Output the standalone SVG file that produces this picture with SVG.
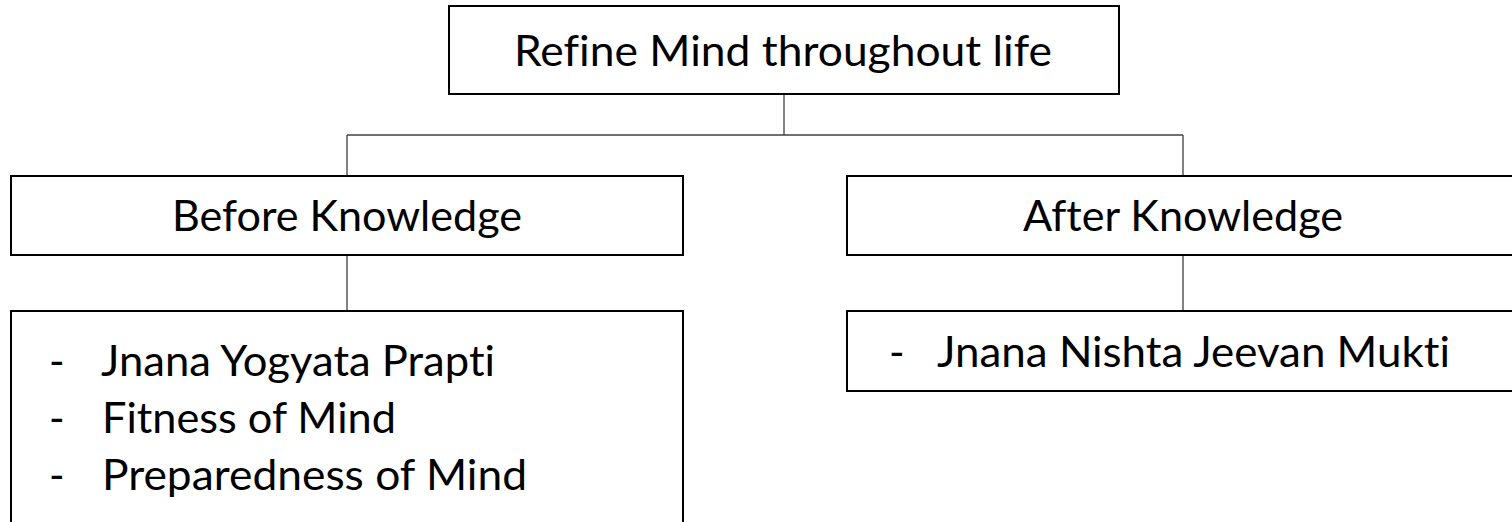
<svg xmlns="http://www.w3.org/2000/svg" width="1512" height="522" viewBox="0 0 1512 522">
<style>
.box{fill:#ffffff;stroke:#000000;stroke-width:2}
.t{font-family:Lato,"Open Sans","Liberation Sans",sans-serif;font-size:42px;fill:#000000;font-variant-ligatures:none}
.c{text-anchor:middle}
.conn{fill:none;stroke:#404040;stroke-width:1.3}
</style>
<rect width="1512" height="522" fill="#ffffff"/>
<g id="connectors">
<line class="conn" x1="784" y1="94" x2="784" y2="135"/>
<line class="conn" x1="347" y1="135" x2="1183" y2="135"/>
<line class="conn" x1="347" y1="135" x2="347" y2="176"/>
<line class="conn" x1="1183" y1="135" x2="1183" y2="176"/>
<line class="conn" x1="347" y1="255" x2="347" y2="311"/>
<line class="conn" x1="1183" y1="255" x2="1183" y2="311"/>
</g>
<g id="root">
<rect class="box" x="449" y="6" width="670" height="88"/>
<text class="t c" x="783" y="66" textLength="538" lengthAdjust="spacingAndGlyphs">Refine Mind throughout life</text>
</g>
<g id="before">
<rect class="box" x="11" y="176" width="672" height="79"/>
<text class="t c" x="347" y="231" textLength="350" lengthAdjust="spacingAndGlyphs">Before Knowledge</text>
</g>
<g id="after">
<rect class="box" x="847" y="176" width="672" height="79"/>
<text class="t c" x="1183" y="231" textLength="320" lengthAdjust="spacingAndGlyphs">After Knowledge</text>
</g>
<g id="before-list">
<rect class="box" x="11" y="311" width="672" height="240"/>
<text class="t" x="49" y="376">-</text>
<text class="t" x="101" y="376" textLength="394" lengthAdjust="spacingAndGlyphs">Jnana Yogyata Prapti</text>
<text class="t" x="49" y="433">-</text>
<text class="t" x="102" y="433" textLength="294" lengthAdjust="spacingAndGlyphs">Fitness of Mind</text>
<text class="t" x="49" y="490">-</text>
<text class="t" x="102" y="490" textLength="425" lengthAdjust="spacingAndGlyphs">Preparedness of Mind</text>
</g>
<g id="after-list">
<rect class="box" x="847" y="311" width="672" height="80"/>
<text class="t" x="889" y="367">-</text>
<text class="t" x="937" y="367" textLength="513" lengthAdjust="spacingAndGlyphs">Jnana Nishta Jeevan Mukti</text>
</g>
</svg>
